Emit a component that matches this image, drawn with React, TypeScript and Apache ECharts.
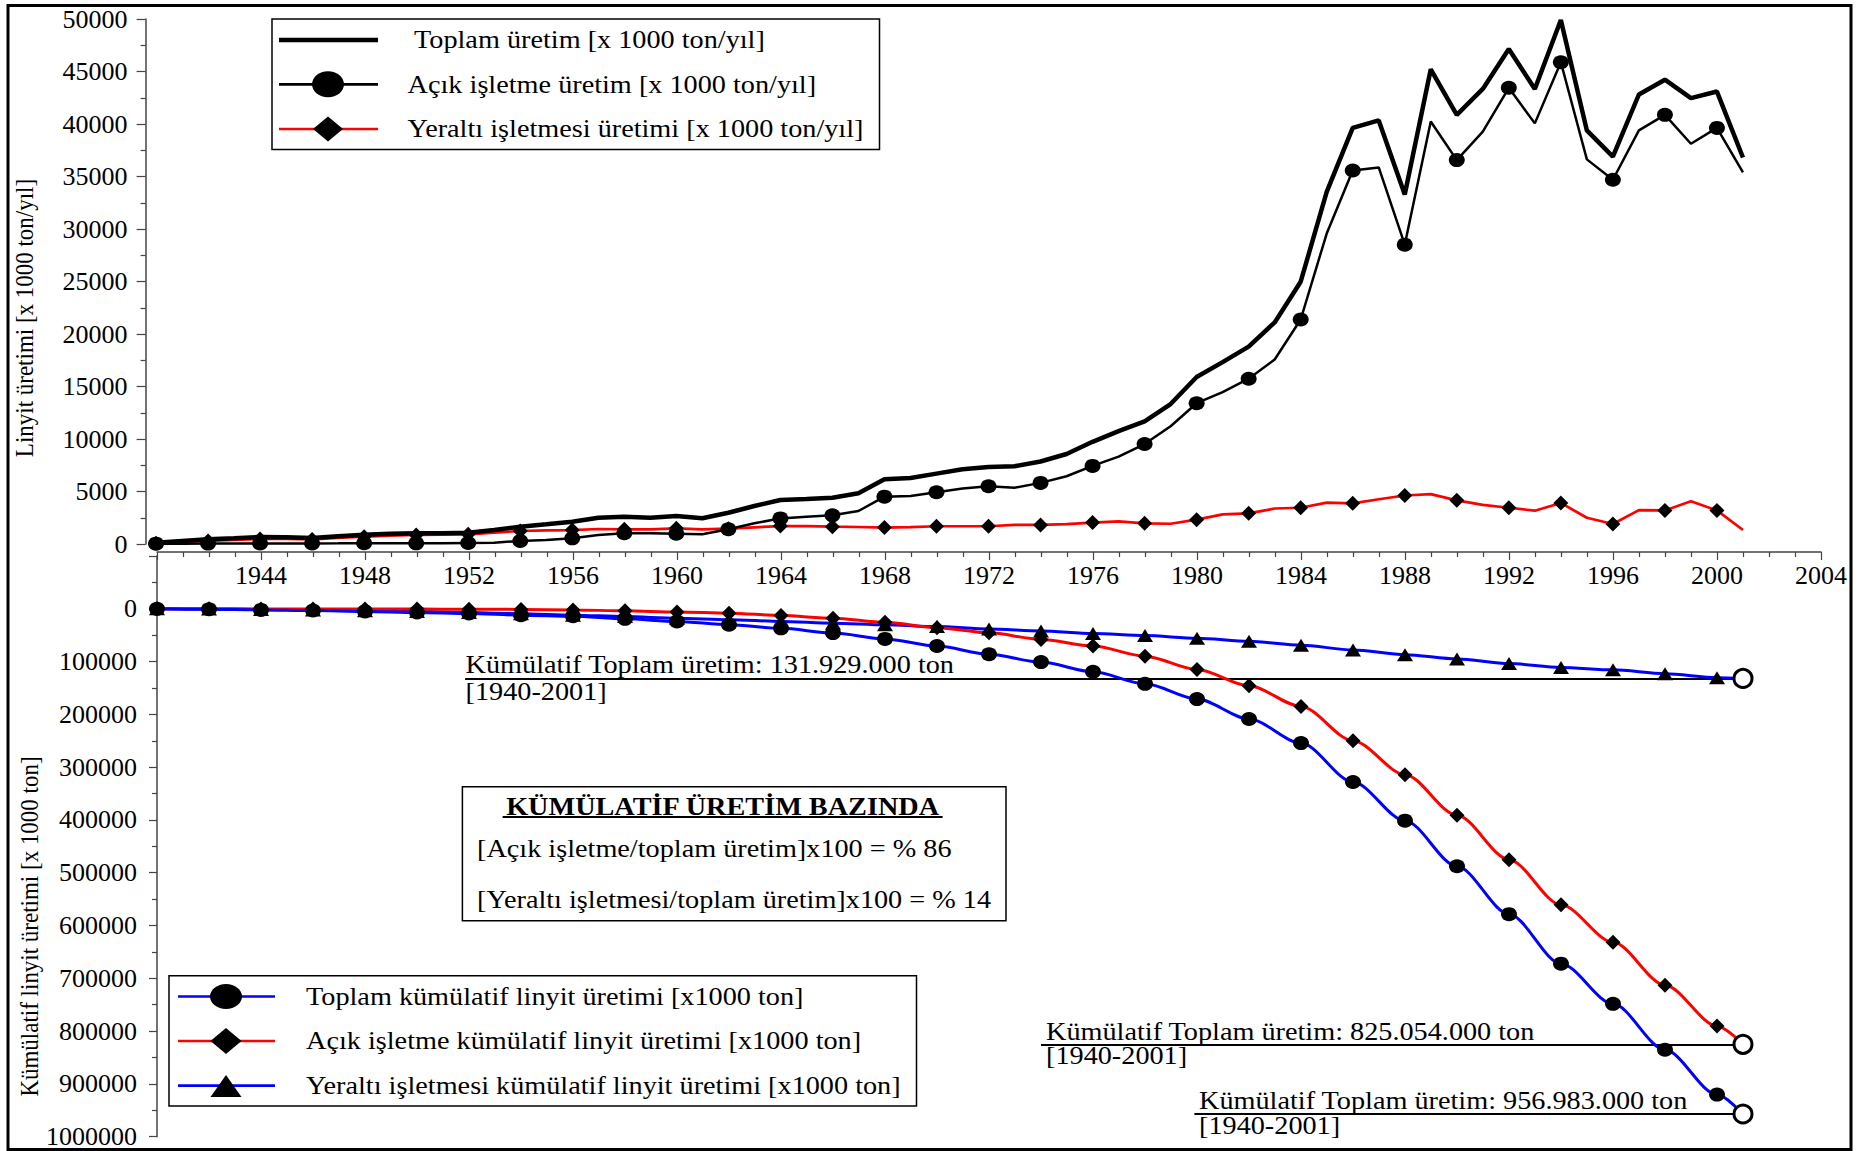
import React, { useEffect, useRef } from "react";
import * as echarts from "echarts";

// Yearly lignite production, thousand tonnes per year
const years = [
  1940, 1941, 1942, 1943, 1944, 1945, 1946, 1947, 1948, 1949,
  1950, 1951, 1952, 1953, 1954, 1955, 1956, 1957, 1958, 1959,
  1960, 1961, 1962, 1963, 1964, 1965, 1966, 1967, 1968, 1969,
  1970, 1971, 1972, 1973, 1974, 1975, 1976, 1977, 1978, 1979,
  1980, 1981, 1982, 1983, 1984, 1985, 1986, 1987, 1988, 1989,
  1990, 1991, 1992, 1993, 1994, 1995, 1996, 1997, 1998, 1999,
  2000, 2001,
];
const toplamUretim = [
  125, 290, 450, 540, 670, 640, 570, 730, 890, 980,
  1020, 1020, 1080, 1330, 1650, 1880, 2120, 2500, 2600, 2500,
  2670, 2450, 2980, 3620, 4190, 4290, 4410, 4830, 6160, 6280,
  6700, 7120, 7340, 7400, 7860, 8570, 9730, 10750, 11680, 13330,
  15910, 17320, 18800, 21100, 24980, 33530, 39630, 40340, 33280, 45210,
  40870, 43340, 47150, 43340, 49900, 39390, 36900, 42810, 44220, 42460,
  43090, 36810,
];
const acikUretim = [
  30, 30, 40, 40, 50, 50, 50, 60, 80, 80,
  60, 60, 100, 130, 290, 380, 540, 860, 1020, 1020,
  980, 920, 1400, 1970, 2440, 2600, 2730, 3140, 4510, 4580,
  4930, 5290, 5500, 5360, 5820, 6450, 7440, 8320, 9520, 11210,
  13410, 14470, 15740, 17570, 21380, 29570, 35570, 35860, 28510, 40240,
  36560, 39280, 43450, 40060, 45880, 36630, 34690, 39390, 40870, 38120,
  39630, 35400,
];
const yeraltiUretim = [
  60, 190, 290, 380, 480, 480, 440, 570, 700, 790,
  860, 890, 920, 1080, 1240, 1300, 1330, 1430, 1400, 1400,
  1490, 1400, 1460, 1590, 1710, 1710, 1650, 1620, 1560, 1610,
  1690, 1690, 1690, 1820, 1820, 1900, 2040, 2150, 1970, 1930,
  2320, 2820, 2920, 3380, 3450, 3940, 3870, 4260, 4620, 4750,
  4160, 3730, 3450, 3170, 3910, 2500, 1900, 3230, 3200, 4080,
  3200, 1330,
];

// Cumulative production since 1940, thousand tonnes
const kumYears = [
  1940, 1942, 1944, 1946, 1948, 1950, 1952, 1954, 1956, 1958,
  1960, 1962, 1964, 1966, 1968, 1970, 1972, 1974, 1976, 1978,
  1980, 1982, 1984, 1986, 1988, 1990, 1992, 1994, 1996, 1998,
  2000, 2001,
];
const toplamKumulatif = [
  125, 870, 2080, 3290, 4900, 6900, 9000, 12000, 14000, 19000,
  24000, 30000, 37000, 46000, 57000, 70600, 86200, 101000, 119300, 142200,
  171000, 208700, 254400, 328200, 401300, 487700, 578400, 672200, 748300, 835400,
  920200, 956983,
];
const acikKumulatif = [
  30, 100, 190, 290, 430, 570, 730, 1140, 2060, 3940,
  5940, 8260, 12700, 18000, 25700, 36000, 45600, 58100, 70600, 89800,
  114900, 146000, 185000, 250000, 314200, 391000, 475200, 560800, 631600, 712900,
  790300, 825054,
];
const yeraltiKumulatif = [
  60, 540, 1400, 2320, 3590, 5240, 7050, 9370, 12000, 14830,
  17720, 20580, 23880, 27240, 30420, 33700, 38200, 41900, 47000, 50700,
  55900, 61700, 69100, 78000, 86900, 95100, 103800, 111200, 115700, 123100,
  130500, 131929,
];

const SERIF = "'Liberation Serif', 'Times New Roman', serif";
const STRETCH = 1.13;
const AXIS_COLOR = "#444";
const BLUE = "#0000ff";
const RED = "#ff0000";

const lastOf = (a: number[]) => a[a.length - 1];
const tonnes = (v: number) =>
  String(Math.round(v * 1000)).replace(/\B(?=(\d{3})+(?!\d))/g, ".");

function yearlyData(values: number[], symbol: string, size: number[]) {
  return years.map((y, i) => ({
    value: [y, values[i]],
    symbol: y % 2 === 0 ? symbol : "none",
    symbolSize: size,
  }));
}

function cumulativeData(values: number[], symbol: string, size: number[]) {
  return kumYears.map((y, i) =>
    i === kumYears.length - 1
      ? {
          value: [y, values[i]],
          symbol: "circle",
          symbolSize: 18,
          itemStyle: { color: "#fff", borderColor: "#000", borderWidth: 3 },
        }
      : { value: [y, values[i]], symbol, symbolSize: size }
  );
}

function totalLine(fromYear: number, value: number) {
  return {
    silent: true,
    symbol: ["none", "none"],
    label: { show: false },
    lineStyle: { color: "#000", width: 2, type: "solid" },
    data: [[{ coord: [fromYear, value] }, { coord: [2000.65, value] }]],
  };
}

function text(str: string, x: number, y: number, extra: any = {}) {
  return {
    type: "text",
    x,
    y,
    scaleX: STRETCH,
    z: 100,
    style: {
      text: str,
      fill: "#000",
      fontSize: 25,
      fontFamily: SERIF,
      fontWeight: extra.bold ? "bold" : "normal",
      textAlign: extra.align || "left",
      textVerticalAlign: "middle",
      verticalAlign: "middle",
    },
  };
}

function hline(x1: number, x2: number, y: number, color: string, width: number) {
  return {
    type: "line",
    z: 100,
    shape: { x1, y1: y, x2, y2: y },
    style: { stroke: color, lineWidth: width },
  };
}

function box(x: number, y: number, w: number, h: number) {
  return {
    type: "rect",
    z: 99,
    shape: { x, y, width: w, height: h },
    style: { fill: "#fff", stroke: "#000", lineWidth: 1.5 },
  };
}

const ellipse = (cx: number, cy: number, rx: number, ry: number) => ({
  type: "ellipse",
  z: 101,
  shape: { cx, cy, rx, ry },
  style: { fill: "#000" },
});

const diamond = (cx: number, cy: number, hw: number, hh: number) => ({
  type: "polygon",
  z: 101,
  shape: { points: [[cx - hw, cy], [cx, cy - hh], [cx + hw, cy], [cx, cy + hh]] },
  style: { fill: "#000" },
});

const triangle = (cx: number, cy: number, hw: number, hh: number) => ({
  type: "polygon",
  z: 101,
  shape: { points: [[cx, cy - hh], [cx + hw, cy + hh], [cx - hw, cy + hh]] },
  style: { fill: "#000" },
});

function axisTitle(str: string, x: number, y: number) {
  return {
    type: "text",
    x,
    y,
    rotation: Math.PI / 2,
    scaleY: 1.1,
    z: 100,
    style: {
      text: str,
      fill: "#000",
      fontSize: 23,
      fontFamily: SERIF,
      textAlign: "center",
      textVerticalAlign: "middle",
      verticalAlign: "middle",
    },
  };
}

function buildOption() {
  const axisLine = { show: true, onZero: false, lineStyle: { color: AXIS_COLOR, width: 1.5 } };
  const tickStyle = { color: AXIS_COLOR, width: 1.2 };
  const labelBase = { color: "#000", fontSize: 26, fontFamily: SERIF };

  const totalLabel = (v: number) => `Kümülatif Toplam üretim: ${tonnes(v)} ton`;
  const period = "[1940-2001]";

  const graphicElements: any[] = [
    // outer frame
    {
      type: "rect",
      z: 98,
      shape: { x: 8, y: 5.5, width: 1843, height: 1144 },
      style: { fill: "none", stroke: "#000", lineWidth: 3 },
    },
    // yearly production legend
    box(272, 19, 607.5, 130.5),
    hline(279, 378, 40, "#000", 4.7),
    hline(279, 378, 84.3, "#000", 2.7),
    ellipse(328, 84.3, 16, 13),
    hline(279, 378, 129, RED, 2.7),
    diamond(328, 129, 15, 12.5),
    text("Toplam üretim [x 1000 ton/yıl]", 414, 40),
    text("Açık işletme üretim [x 1000 ton/yıl]", 407.6, 84.3),
    text("Yeraltı işletmesi üretimi [x 1000 ton/yıl]", 407.6, 129),
    // cumulative production legend
    box(169, 975.7, 747.5, 130.3),
    hline(178, 275, 996.5, BLUE, 2.7),
    ellipse(226, 996.5, 16, 12.5),
    hline(178, 275, 1041, RED, 2.7),
    diamond(226, 1041, 15.5, 13),
    hline(178, 275, 1085.7, BLUE, 2.7),
    triangle(226, 1086, 15.5, 11),
    text("Toplam kümülatif linyit üretimi [x1000 ton]", 306, 996.5),
    text("Açık işletme kümülatif linyit üretimi [x1000 ton]", 306, 1041),
    text("Yeraltı işletmesi kümülatif linyit üretimi [x1000 ton]", 306, 1085.7),
    // share box
    box(462.4, 786.7, 543.6, 134),
    text("KÜMÜLATİF ÜRETİM BAZINDA", 722.6, 807, { bold: true, align: "center" }),
    hline(502.6, 942.6, 817, "#000", 2),
    text("[Açık işletme/toplam üretim]x100 = % 86", 477, 849),
    text("[Yeraltı işletmesi/toplam üretim]x100 = % 14", 477, 899.3),
    // cumulative totals
    text(totalLabel(lastOf(yeraltiKumulatif)), 465.6, 665),
    text(period, 465.6, 692),
    text(totalLabel(lastOf(acikKumulatif)), 1046, 1032),
    text(period, 1046, 1056),
    text(totalLabel(lastOf(toplamKumulatif)), 1199, 1101),
    text(period, 1199, 1126),
    // axis titles
    axisTitle("Linyit üretimi [x 1000 ton/yıl]", 24, 318),
    axisTitle("Kümülatif linyit üretimi [x 1000 ton]", 29, 926.5),
  ];

  return {
    animation: false,
    backgroundColor: "#fff",
    textStyle: { fontFamily: SERIF },
    grid: [
      { left: 145.6, right: 42, top: 19, bottom: 607, outerBoundsMode: "none" },
      { left: 157, right: 42, top: 556, bottom: 14.3, outerBoundsMode: "none" },
    ],
    xAxis: [
      { type: "value", gridIndex: 0, min: 1939.6, max: 2004, show: false },
      {
        type: "value",
        gridIndex: 1,
        min: 1940,
        max: 2004,
        interval: 4,
        position: "top",
        offset: 4,
        axisLine,
        axisTick: { show: true, inside: true, length: 8, lineStyle: tickStyle },
        minorTick: { show: true, splitNumber: 4, length: 5, lineStyle: tickStyle },
        axisLabel: {
          ...labelBase,
          inside: true,
          margin: 10,
          showMinLabel: true,
          showMaxLabel: true,
          formatter: (v: number) => (v === 1940 ? "" : String(v)),
        },
        splitLine: { show: false },
        minorSplitLine: { show: false },
      },
    ],
    yAxis: [
      {
        type: "value",
        gridIndex: 0,
        min: 0,
        max: 50000,
        interval: 5000,
        axisLine,
        axisTick: { show: true, length: 9, lineStyle: tickStyle },
        minorTick: { show: true, splitNumber: 2, length: 5, lineStyle: tickStyle },
        axisLabel: {
          ...labelBase,
          margin: 18,
          showMaxLabel: true,
          showMinLabel: true,
          formatter: (v: number) => String(v),
        },
        splitLine: { show: false },
      },
      {
        type: "value",
        gridIndex: 1,
        inverse: true,
        min: -100000,
        max: 1000000,
        interval: 100000,
        axisLine,
        axisTick: { show: true, length: 8, lineStyle: tickStyle },
        minorTick: { show: true, splitNumber: 2, length: 5, lineStyle: tickStyle },
        axisLabel: {
          ...labelBase,
          margin: 20,
          showMaxLabel: true,
          showMinLabel: true,
          formatter: (v: number) => (v < 0 ? "" : String(v)),
        },
        splitLine: { show: false },
      },
    ],
    series: [
      {
        name: "Yeraltı işletmesi üretimi [x 1000 ton/yıl]",
        type: "line",
        xAxisIndex: 0,
        yAxisIndex: 0,
        data: yearlyData(yeraltiUretim, "diamond", [15, 15]),
        showAllSymbol: true,
        lineStyle: { color: RED, width: 2.7 },
        itemStyle: { color: "#000" },
        z: 3,
      },
      {
        name: "Açık işletme üretim [x 1000 ton/yıl]",
        type: "line",
        xAxisIndex: 0,
        yAxisIndex: 0,
        data: yearlyData(acikUretim, "circle", [16, 14]),
        showAllSymbol: true,
        lineStyle: { color: "#000", width: 2.5 },
        itemStyle: { color: "#000" },
        z: 4,
      },
      {
        name: "Toplam üretim [x 1000 ton/yıl]",
        type: "line",
        xAxisIndex: 0,
        yAxisIndex: 0,
        data: years.map((y, i) => [y, toplamUretim[i]]),
        symbol: "none",
        lineStyle: { color: "#000", width: 4.5 },
        z: 5,
      },
      {
        name: "Yeraltı işletmesi kümülatif linyit üretimi [x1000 ton]",
        type: "line",
        xAxisIndex: 1,
        yAxisIndex: 1,
        data: cumulativeData(yeraltiKumulatif, "triangle", [16, 13]),
        showAllSymbol: true,
        smooth: 0.3,
        smoothMonotone: "x",
        lineStyle: { color: BLUE, width: 3 },
        itemStyle: { color: "#000" },
        markLine: totalLine(1951.85, lastOf(yeraltiKumulatif)),
        z: 6,
      },
      {
        name: "Açık işletme kümülatif linyit üretimi [x1000 ton]",
        type: "line",
        xAxisIndex: 1,
        yAxisIndex: 1,
        data: cumulativeData(acikKumulatif, "diamond", [15, 15]),
        showAllSymbol: true,
        smooth: 0.3,
        smoothMonotone: "x",
        lineStyle: { color: RED, width: 3 },
        itemStyle: { color: "#000" },
        markLine: totalLine(1974.0, lastOf(acikKumulatif)),
        z: 6,
      },
      {
        name: "Toplam kümülatif linyit üretimi [x1000 ton]",
        type: "line",
        xAxisIndex: 1,
        yAxisIndex: 1,
        data: cumulativeData(toplamKumulatif, "circle", [16, 14]),
        showAllSymbol: true,
        smooth: 0.3,
        smoothMonotone: "x",
        lineStyle: { color: BLUE, width: 3 },
        itemStyle: { color: "#000" },
        markLine: totalLine(1979.9, lastOf(toplamKumulatif)),
        z: 6,
      },
    ],
    graphic: { elements: graphicElements },
  };
}

export default function App() {
  const ref = useRef<HTMLDivElement>(null);

  useEffect(() => {
    if (!ref.current) return;
    const chart = echarts.init(ref.current, undefined, { renderer: "svg" });
    chart.setOption(buildOption() as any);
    return () => chart.dispose();
  }, []);

  return (
    <div
      ref={ref}
      style={{ position: "fixed", left: 0, top: 0, width: 1863, height: 1151, background: "#fff" }}
    />
  );
}
